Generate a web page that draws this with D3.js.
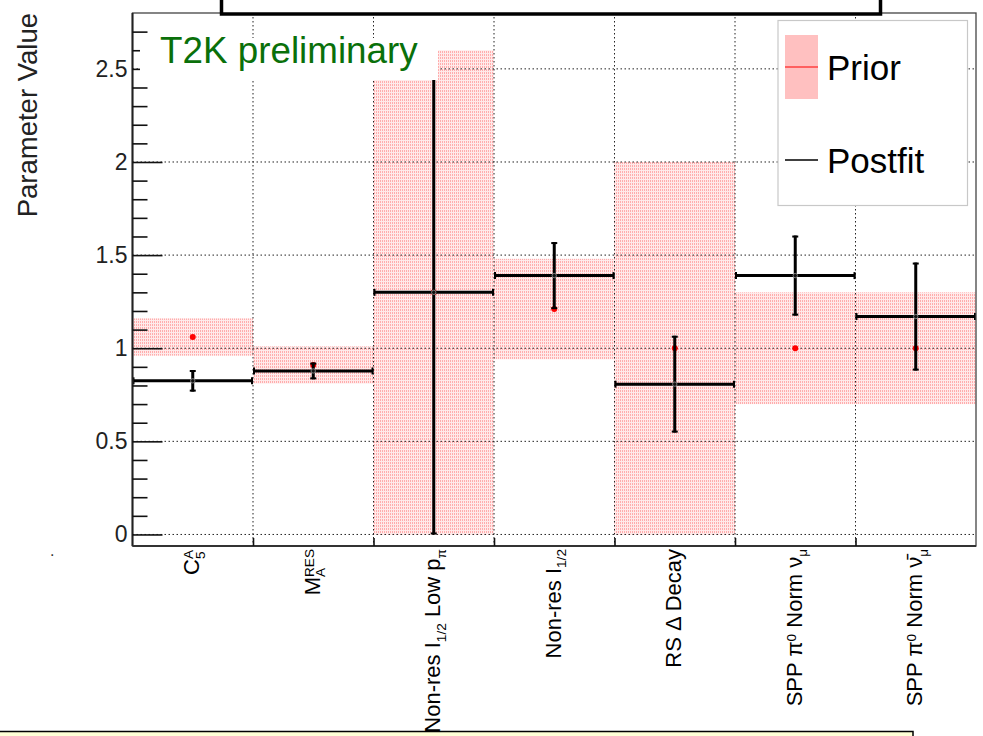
<!DOCTYPE html>
<html>
<head>
<meta charset="utf-8">
<script src="https://cdn.jsdelivr.net/npm/d3@7"></script>
<style>
  html, body { margin: 0; padding: 0; background: #fff; }
  svg { display: block; font-family: "Liberation Sans", Arial, Helvetica, sans-serif; }
</style>
</head>
<body>
<svg id="chart" width="983" height="736"></svg>
<script>
// Parameter names (TLatex-like markup: ^{..} superscript, _{..} subscript)
const categories = [
  "C^{A}_{5}",
  "M^{RES}_{A}",
  "Non-res I_{1/2} Low p_{π}",
  "Non-res I_{1/2}",
  "RS Δ Decay",
  "SPP π^{0} Norm ν_{μ}",
  "SPP π^{0} Norm ν̄_{μ}"
];
// Prior central values and 1σ widths
const priorValues = [1.06, 0.91, 1.30, 1.21, 1.00, 1.00, 1.00];
const priorErrors = [0.10, 0.10, 1.30, 0.27, 1.00, 0.30, 0.30];
// Postfit central values and 1σ errors
const postValues = [0.825, 0.878, 1.30, 1.39, 0.807, 1.39, 1.17];
const postErrors = [0.058, 0.045, 1.30, 0.18, 0.26, 0.215, 0.29];
// Y axis ticks
const yMajorTicks = [0, 0.5, 1, 1.5, 2, 2.5];
const yTickLabels = ["0", "0.5", "1", "1.5", "2", "2.5"];
const yMinorTicks = [0.1, 0.2, 0.3, 0.4, 0.6, 0.7, 0.8, 0.9, 1.1, 1.2, 1.3, 1.4,
                     1.6, 1.7, 1.8, 1.9, 2.1, 2.2, 2.3, 2.4, 2.6, 2.7];

const svg = d3.select("#chart");
const frame = { left: 132.5, right: 976, top: 13, bottom: 546 };

const x = d3.scaleBand().domain(categories).range([frame.left, frame.right]).padding(0);
const xEdge = d3.scaleLinear().domain([0, categories.length]).range([frame.left, frame.right]);
const y = d3.scaleLinear().domain([-0.062, 2.80]).range([frame.bottom, frame.top]);

// Dotted-looking fill for the prior bands
const defs = svg.append("defs");
const pat = defs.append("pattern").attr("id", "priorFill")
  .attr("patternUnits", "userSpaceOnUse").attr("width", 2).attr("height", 3);
pat.append("rect").attr("width", 2).attr("height", 3).attr("fill", "#ffeaea");
pat.append("rect").attr("width", 1).attr("height", 2).attr("fill", "#ffadad");

const plot = svg.append("g");

// Prior bands
plot.selectAll("rect.prior").data(categories).join("rect")
  .attr("class", "prior")
  .attr("x", d => x(d))
  .attr("width", x.bandwidth())
  .attr("y", (d, i) => y(priorValues[i] + priorErrors[i]))
  .attr("height", (d, i) => y(priorValues[i] - priorErrors[i]) - y(priorValues[i] + priorErrors[i]))
  .attr("fill", "url(#priorFill)");

// Dotted grid
const grid = plot.append("g").attr("stroke", "#222").attr("stroke-width", 1).attr("stroke-dasharray", "1.5,2.5");
grid.selectAll("line.gy").data(yMajorTicks).join("line")
  .attr("x1", frame.left).attr("x2", frame.right)
  .attr("y1", d => y(d)).attr("y2", d => y(d));
grid.selectAll("line.gx").data(d3.range(1, categories.length)).join("line")
  .attr("x1", d => xEdge(d)).attr("x2", d => xEdge(d))
  .attr("y1", frame.top).attr("y2", frame.bottom);

// Prior central values
plot.selectAll("circle.prior").data(categories).join("circle")
  .attr("cx", d => x(d) + x.bandwidth() / 2)
  .attr("cy", (d, i) => y(priorValues[i]))
  .attr("r", 3).attr("fill", "#ff0000");

// Postfit values with errors
const post = plot.append("g").attr("stroke", "#000");
categories.forEach((c, i) => {
  const x0 = x(c), x1 = x(c) + x.bandwidth(), xc = x0 + x.bandwidth() / 2;
  const yc = y(postValues[i]);
  const yt = y(postValues[i] + postErrors[i]), yb = y(postValues[i] - postErrors[i]);
  post.append("line").attr("x1", x0).attr("x2", x1).attr("y1", yc).attr("y2", yc).attr("stroke-width", 3);
  post.append("line").attr("x1", x0 + 1).attr("x2", x0 + 1).attr("y1", yc - 3.5).attr("y2", yc + 3.5).attr("stroke-width", 2);
  post.append("line").attr("x1", x1 - 1).attr("x2", x1 - 1).attr("y1", yc - 3.5).attr("y2", yc + 3.5).attr("stroke-width", 2);
  post.append("line").attr("x1", xc).attr("x2", xc).attr("y1", yt).attr("y2", yb).attr("stroke-width", 3);
  post.append("line").attr("x1", xc - 3).attr("x2", xc + 3).attr("y1", yt + 1).attr("y2", yt + 1).attr("stroke-width", 2);
  post.append("line").attr("x1", xc - 3).attr("x2", xc + 3).attr("y1", yb - 1).attr("y2", yb - 1).attr("stroke-width", 2);
  post.append("circle").attr("cx", xc).attr("cy", yc).attr("r", 2.2).attr("fill", "#111").attr("stroke", "#999").attr("stroke-width", 0.8);
});

// Frame
svg.append("rect").attr("x", frame.left).attr("y", frame.top)
  .attr("width", frame.right - frame.left).attr("height", frame.bottom - frame.top)
  .attr("fill", "none").attr("stroke", "#444").attr("stroke-width", 1.3);
svg.append("line").attr("x1", frame.left).attr("x2", frame.left).attr("y1", frame.top).attr("y2", frame.bottom)
  .attr("stroke", "#222").attr("stroke-width", 2);
svg.append("line").attr("x1", frame.left).attr("x2", frame.right).attr("y1", frame.bottom).attr("y2", frame.bottom)
  .attr("stroke", "#333").attr("stroke-width", 2);

// Y axis: major ticks with labels, minor ticks
const yAxis = svg.append("g").attr("transform", `translate(${frame.left},0)`)
  .call(d3.axisLeft(y).tickValues(yMajorTicks).tickSize(-30).tickPadding(5)
    .tickFormat((d, i) => yTickLabels[i]));
yAxis.select(".domain").remove();
yAxis.selectAll(".tick line").attr("stroke", "#111").attr("stroke-width", 1.6);
yAxis.selectAll(".tick text").attr("font-size", 23).attr("fill", "#222")
  .attr("font-family", "'Liberation Sans', Arial, sans-serif");
const yMinor = svg.append("g").attr("transform", `translate(${frame.left},0)`)
  .call(d3.axisLeft(y).tickValues(yMinorTicks).tickSize(-15).tickFormat(""));
yMinor.select(".domain").remove();
yMinor.selectAll(".tick text").remove();
yMinor.selectAll(".tick line").attr("stroke", "#111").attr("stroke-width", 1.6);

// X axis ticks at bin edges
const xAxis = svg.append("g").attr("transform", `translate(0,${frame.bottom})`)
  .call(d3.axisBottom(xEdge).tickValues(d3.range(1, categories.length)).tickSize(-8).tickFormat(""));
xAxis.select(".domain").remove();
xAxis.selectAll(".tick text").remove();
xAxis.selectAll(".tick line").attr("stroke", "#111").attr("stroke-width", 1.6);

// "T2K preliminary" label on its own white pad
svg.append("rect").attr("x", 140).attr("y", 38).attr("width", 298).attr("height", 42).attr("fill", "#fff");
svg.append("text").attr("x", 160).attr("y", 63).attr("font-size", 36.8).attr("fill", "#0a700a")
  .text("T2K preliminary");

// Title pad (upper part lies outside the canvas)
svg.append("rect").attr("x", 221.5).attr("y", -60).attr("width", 659).attr("height", 74)
  .attr("fill", "#fff").attr("stroke", "#000").attr("stroke-width", 3.5);

// Legend
const leg = svg.append("g");
leg.append("rect").attr("x", 778).attr("y", 20.5).attr("width", 189.5).attr("height", 185)
  .attr("fill", "#fff").attr("stroke", "#c8c8c8").attr("stroke-width", 1.2);
leg.append("rect").attr("x", 785).attr("y", 35).attr("width", 33).attr("height", 64).attr("fill", "#ffc0c0");
leg.append("line").attr("x1", 785).attr("x2", 818).attr("y1", 67).attr("y2", 67).attr("stroke", "#ff0000").attr("stroke-width", 1);
leg.append("text").attr("x", 827).attr("y", 80).attr("font-size", 35).attr("fill", "#000").text("Prior");
leg.append("line").attr("x1", 785).attr("x2", 818).attr("y1", 160).attr("y2", 160).attr("stroke", "#000").attr("stroke-width", 1.3);
leg.append("text").attr("x", 827).attr("y", 173).attr("font-size", 35).attr("fill", "#000").text("Postfit");

// Rich-text writer for the parameter names; baseline offsets carry over
// to the next normal-size run instead of using empty spans
function writeRich(textSel, src, fs) {
  const small = fs * 0.62, up = 6, down = 5.5;
  const re = /(\^\{[^}]*\}_\{[^}]*\}|\^\{[^}]*\}|_\{[^}]*\}|[^^_]+)/g;
  let pendingDy = 0, pendingDx = 0, m;
  while ((m = re.exec(src)) !== null) {
    const tok = m[0];
    if (tok.startsWith("^") && tok.includes("}_{")) {
      const sup = tok.slice(2, tok.indexOf("}"));
      const sub = tok.slice(tok.indexOf("}_{") + 3, -1);
      const t1 = textSel.append("tspan").attr("font-size", small).attr("dy", pendingDy - up).text(sup);
      const w1 = t1.node().getComputedTextLength();
      const t2 = textSel.append("tspan").attr("font-size", small).attr("dy", up + down).attr("dx", -w1).text(sub);
      const w2 = t2.node().getComputedTextLength();
      pendingDy = -down; pendingDx = Math.max(0, w1 - w2);
    } else if (tok.startsWith("^")) {
      textSel.append("tspan").attr("font-size", small).attr("dy", pendingDy - up).text(tok.slice(2, -1));
      pendingDy = up; pendingDx = 0;
    } else if (tok.startsWith("_")) {
      textSel.append("tspan").attr("font-size", small).attr("dy", pendingDy + down).text(tok.slice(2, -1));
      pendingDy = -down; pendingDx = 0;
    } else {
      const t = textSel.append("tspan").attr("font-size", fs).text(tok);
      if (pendingDy) t.attr("dy", pendingDy);
      if (pendingDx) t.attr("dx", pendingDx);
      pendingDy = 0; pendingDx = 0;
    }
  }
}

// Rotated bin labels, right-aligned against the axis
const labels = svg.append("g");
categories.forEach(c => {
  const g = labels.append("g")
    .attr("transform", `translate(${x(c) + x.bandwidth() / 2 + 6.5},549) rotate(-90)`);
  const t = g.append("text").attr("x", 0).attr("y", 0).attr("fill", "#000");
  writeRich(t, c, 22);
  const bb = t.node().getBBox();
  t.attr("transform", `translate(${-(bb.x + bb.width)},0)`);
});

// Stray mark left of the axis
svg.append("text").attr("x", 50).attr("y", 556).attr("font-size", 16).attr("fill", "#333").text(".");

// Y axis title
svg.append("g").attr("transform", "translate(37,13) rotate(-90)")
  .append("text").attr("text-anchor", "end").attr("font-size", 27.5).attr("fill", "#222")
  .text("Parameter Value");

// Note pad along the bottom edge
svg.append("rect").attr("x", -5).attr("y", 731.5).attr("width", 918).attr("height", 30)
  .attr("fill", "#ffffd6").attr("stroke", "#000").attr("stroke-width", 1.5);
</script>
</body>
</html>
